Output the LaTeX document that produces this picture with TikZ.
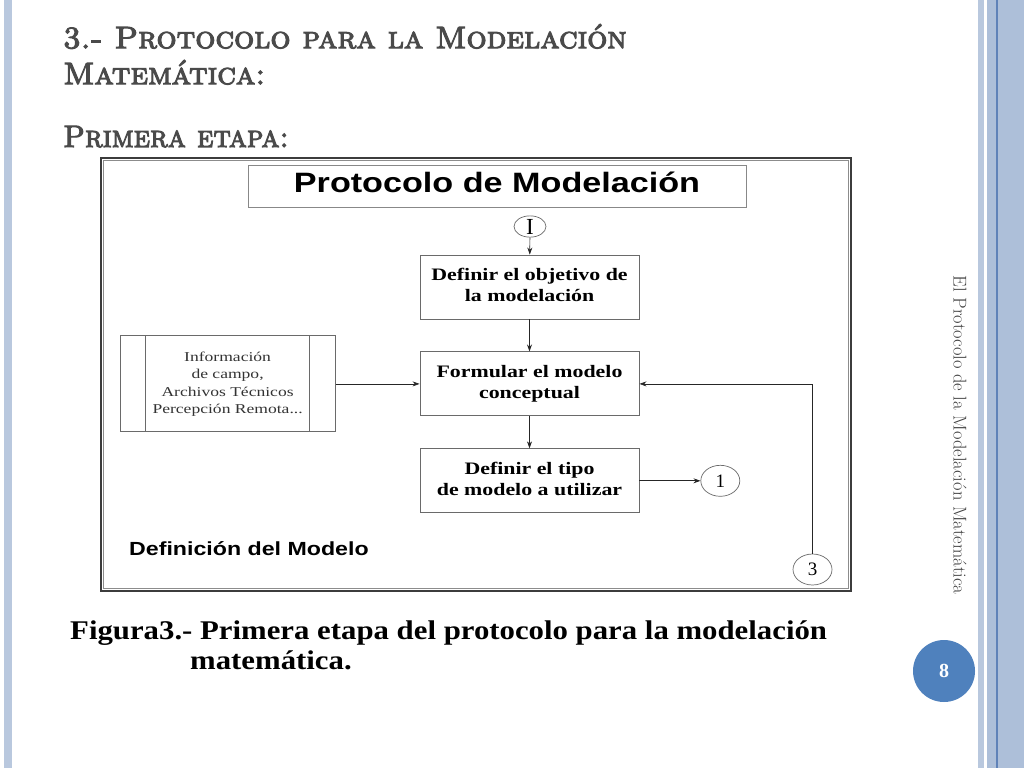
\documentclass[tikz,border=0pt]{standalone}
\usepackage{fontspec}
\newfontfamily\fSans{Liberation Sans}
\newfontfamily\fSerif{Liberation Serif}
\newfontfamily\fCaps{lmromancaps10-regular.otf}[FakeBold=3.5]
\usepackage{xcolor}
\definecolor{cStrip}{HTML}{B9C8DE}
\definecolor{cBand}{HTML}{ADBFD9}
\definecolor{cRule}{HTML}{5F82B8}
\definecolor{cTitle}{HTML}{4A4A4A}
\definecolor{cBadge}{HTML}{4F81BD}
\definecolor{cFrame}{HTML}{3C3C3C}
\definecolor{cBox}{HTML}{6A6A6A}
\usepackage{graphicx}
\usetikzlibrary{positioning,arrows.meta,shapes.geometric}
\newcommand{\wide}[2][1.25]{\scalebox{#1}[1]{\begin{tabular}{@{}c@{}}#2\end{tabular}}}
\tikzset{
  node-head/.style={draw=cBox!80,line width=1pt,minimum width=498pt,
    minimum height=42pt,inner sep=0pt,font=\fSans\bfseries\fontsize{28}{28}\selectfont},
  node-box/.style={draw=cBox,line width=0.9pt,minimum width=219pt,
    minimum height=64pt,inner sep=0pt,font=\fSerif\bfseries\fontsize{17.5}{21}\selectfont},
  node-info/.style={draw=cBox,line width=0.9pt,minimum width=215pt,
    minimum height=96pt,inner sep=0pt,text=black!80,
    font=\fSerif\fontsize{13.5}{17.3}\selectfont},
  node-conn/.style={draw=cBox,ellipse,line width=0.7pt,minimum width=39pt,
    minimum height=31pt,inner sep=0pt,font=\fSerif\fontsize{19}{19}\selectfont},
  arrow/.style={-{Stealth[length=7pt,width=5pt]},line width=0.7pt,draw=black!85},
  slide-title/.style={anchor=base west,inner sep=0pt,text=cTitle,
    font=\fCaps\fontsize{31}{31}\selectfont},
  caption/.style={anchor=base west,inner sep=0pt,
    font=\fSerif\bfseries\fontsize{27}{27}\selectfont},
}
\begin{document}
\begin{tikzpicture}[x=1pt,y=-1pt,node distance=32pt and 84pt]
  \useasboundingbox[fill=white] (0,0) rectangle (1024,768);
  \fill[cStrip] (4,0) rectangle (12,768);
  \fill[cStrip] (978,0) rectangle (984,768);
  \fill[cBand] (987,0) rectangle (1024,768);
  \draw[cRule,line width=1.2pt] (997,0) -- (997,768);

  \node[slide-title] (t1) at (63,47)  {\wide[1.02]{3.- Protocolo para la Modelación}};
  \node[slide-title] (t2) at (63,83)  {\wide[1.02]{Matemática:}};
  \node[slide-title] (t3) at (63,147) {\wide[0.95]{Primera etapa:}};

  \draw[cFrame,line width=2.4pt] (101,158) rectangle (851,591);
  \draw[black!45,line width=0.8pt] (103.8,160.8) rectangle (848.2,588.2);

  \node[node-head] (head) at (497,186) {\wide[1.22]{Protocolo de Modelación}};
  \node[node-conn,minimum width=32pt,minimum height=21pt,
    font=\fSerif\fontsize{23}{23}\selectfont] (cI) at (530,226.5) {I};
  \node[node-box] (obj) at (529.5,287) {\wide{Definir el objetivo de\\la modelación}};
  \node[node-box,below=of obj]  (form) {\wide{Formular el modelo\\conceptual}};
  \node[node-box,below=of form] (tipo) {\wide{Definir el tipo\\de modelo a utilizar}};
  \node[node-conn,right=61pt of tipo] (c1) {1};
  \node[node-conn] (c3) at (812.5,569.5) {3};
  \node[node-info,left=of form] (info)
    {\wide[1.3]{Información\\de campo,\\Archivos Técnicos\\Percepción Remota...}};
  \draw[cBox,line width=0.9pt] ([xshift=26pt]info.north west) -- ([xshift=26pt]info.south west);
  \draw[cBox,line width=0.9pt] ([xshift=-26pt]info.north east) -- ([xshift=-26pt]info.south east);
  \node[anchor=base west,inner sep=0pt,font=\fSans\bfseries\fontsize{19}{19}\selectfont]
    (lbl) at (129,556) {\wide[1.22]{Definición del Modelo}};

  \draw[arrow] (cI) -- (obj);
  \draw[arrow] (obj) -- (form);
  \draw[arrow] (form) -- (tipo);
  \draw[arrow] (tipo) -- (c1);
  \draw[arrow] (info) -- (form);
  \draw[arrow] (c3) |- (form);

  \node[caption] (cap1) at (70,640)  {\wide[1.14]{Figura3.- Primera etapa del protocolo para la modelación}};
  \node[caption] (cap2) at (190,670) {\wide[1.14]{matemática.}};

  \node[rotate=-90,inner sep=0pt,text=black!75,font=\fontsize{18.5}{18.5}\selectfont]
    (foot) at (960,435) {El Protocolo de la Modelación Matemática};
  \node[circle,fill=cBadge,minimum size=62pt,inner sep=0pt,text=white,
    font=\fSerif\bfseries\fontsize{20}{20}\selectfont] (page) at (944,671) {8};
\end{tikzpicture}
\end{document}
